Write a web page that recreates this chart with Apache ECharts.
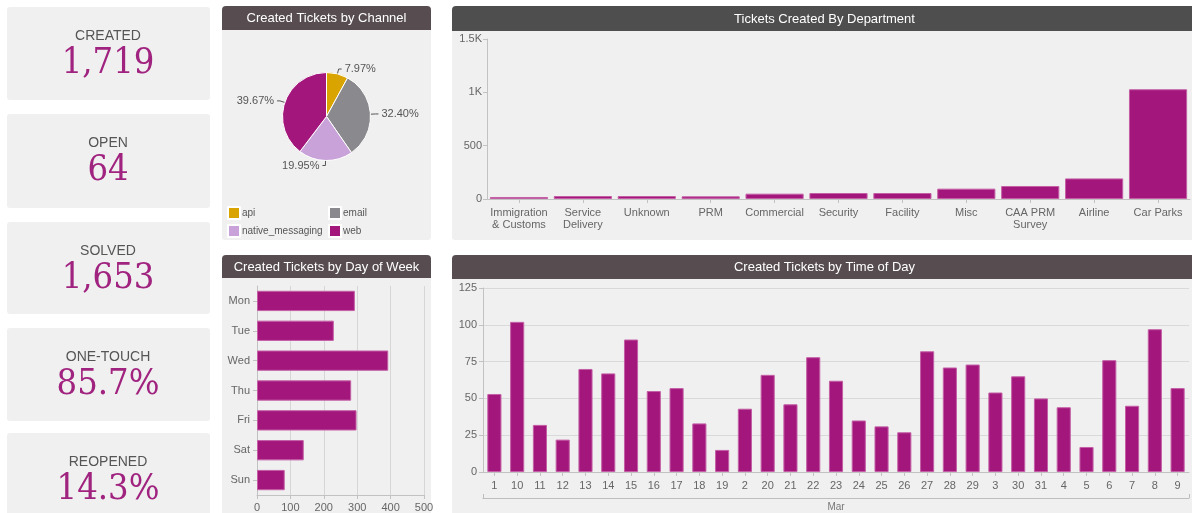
<!DOCTYPE html>
<html><head><meta charset="utf-8">
<script src="https://cdn.jsdelivr.net/npm/echarts@6/dist/echarts.min.js"></script>
<style>html,body{margin:0;padding:0;background:#fff;overflow:hidden}#c{width:1192px;height:513px}</style>
</head><body><div id="c"></div>
<script>
// ---- data ----
const kpiLabels = ['CREATED', 'OPEN', 'SOLVED', 'ONE-TOUCH', 'REOPENED'];
const kpiValues = ['1,719', '64', '1,653', '85.7%', '14.3%'];

const channelNames = ['api', 'email', 'native_messaging', 'web'];
const channelValues = [137, 557, 343, 682];

const deptNames = ['Immigration\n& Customs', 'Service\nDelivery', 'Unknown', 'PRM', 'Commercial', 'Security', 'Facility', 'Misc', 'CAA PRM\nSurvey', 'Airline', 'Car Parks'];
const deptValues = [19, 28, 28, 25, 50, 56, 56, 97, 122, 193, 1029];

const dayNames = ['Mon', 'Tue', 'Wed', 'Thu', 'Fri', 'Sat', 'Sun'];
const dayValues = [293, 230, 393, 282, 298, 140, 83];

const timeCats = ['1', '10', '11', '12', '13', '14', '15', '16', '17', '18', '19', '2', '20', '21', '22', '23', '24', '25', '26', '27', '28', '29', '3', '30', '31', '4', '5', '6', '7', '8', '9'];
const timeValues = [53, 102, 32, 22, 70, 67, 90, 55, 57, 33, 15, 43, 66, 46, 78, 62, 35, 31, 27, 82, 71, 73, 54, 65, 50, 44, 17, 76, 45, 97, 57];
const timeGroup = ['Mar'];

// ---- styling ----
const PURPLE = '#a3177c';
const BAR_BORDER = '#c45fa6';
const PANEL = '#f0f0f0';
const HEAD = '#574d50';
const HEAD_DEPT = '#4e4e4e';
const TXT = '#666';
const SANS = 'Liberation Sans, Arial, sans-serif';
const SERIF = '"DejaVu Serif Condensed", "DejaVu Serif", serif';

const chart = echarts.init(document.getElementById('c'), null, {renderer: 'canvas'});

const channelTotal = channelValues.reduce((a, b) => a + b, 0);

const cardTops = [7, 114, 222, 328, 433];
const cardH = [93, 94, 92, 93, 90];
const graphics = [];
kpiLabels.forEach((lab, i) => {
  const t = cardTops[i];
  graphics.push({type: 'rect', z: -10, shape: {x: 7, y: t, width: 203, height: cardH[i], r: 3}, style: {fill: PANEL}});
  graphics.push({type: 'text', z: 5, x: 108, y: t + 29, style: {text: lab, fill: '#555', font: '14px ' + SANS, textAlign: 'center', textVerticalAlign: 'middle'}});
  graphics.push({type: 'text', z: 5, x: 108, y: t + 39,
    style: {text: kpiValues[i], fill: '#a0237f', font: '36px ' + SERIF, textAlign: 'center', textVerticalAlign: 'top'}});
});

function panel(x, y, w, h, headH, head, title) {
  graphics.push({type: 'rect', z: -10, shape: {x: x, y: y, width: w, height: h, r: 3}, style: {fill: PANEL}});
  graphics.push({type: 'rect', z: -9, shape: {x: x, y: y, width: w, height: headH, r: [4, 4, 0, 0]}, style: {fill: head}});
  graphics.push({type: 'text', z: 5, x: x + w / 2, y: y + headH / 2 + 0.5, style: {text: title, fill: '#fff', font: '13px ' + SANS, textAlign: 'center', textVerticalAlign: 'middle'}});
}
panel(222, 6, 209, 234, 24, HEAD, 'Created Tickets by Channel');
panel(452, 6, 745, 234, 25, HEAD_DEPT, 'Tickets Created By Department');
panel(222, 255, 209, 270, 23, HEAD, 'Created Tickets by Day of Week');
panel(452, 255, 745, 270, 24, HEAD, 'Created Tickets by Time of Day');

const axisLbl = {color: TXT, fontSize: 11, fontFamily: SANS};
const axLine = {show: true, lineStyle: {color: '#c2c2c2'}};
const axTick = {show: true, lineStyle: {color: '#c2c2c2'}, length: 4};

const option = {
  animation: false,
  backgroundColor: '#fff',
  graphic: {elements: graphics},
  legend: [
    {data: ['api', 'native_messaging'], orient: 'vertical', left: 227, top: 206, itemWidth: 12, itemHeight: 12, itemGap: 4, icon: 'rect',
      textStyle: {color: '#555', fontSize: 10, fontFamily: SANS, padding: [0, 0, 0, -3]}, padding: 0},
    {data: ['email', 'web'], orient: 'vertical', left: 328, top: 206, itemWidth: 12, itemHeight: 12, itemGap: 4, icon: 'rect',
      textStyle: {color: '#555', fontSize: 10, fontFamily: SANS, padding: [0, 0, 0, -3]}, padding: 0}
  ],
  grid: [
    {left: 487, right: 2, top: 39, bottom: 513 - 199, containLabel: false},
    {left: 257, width: 167, top: 286, height: 211, containLabel: false},
    {left: 483, right: 3, top: 288, height: 184, containLabel: false}
  ],
  xAxis: [
    {gridIndex: 0, type: 'category', data: deptNames, axisLine: axLine, axisTick: Object.assign({alignWithLabel: true}, axTick),
      axisLabel: Object.assign({interval: 0, margin: 8, lineHeight: 12}, axisLbl)},
    {gridIndex: 1, type: 'value', min: 0, max: 500, interval: 100, axisLine: axLine, axisTick: axTick,
      splitLine: {show: true, lineStyle: {color: '#d6d6d6'}}, axisLabel: Object.assign({margin: 7}, axisLbl)},
    {gridIndex: 2, type: 'category', data: timeCats, axisLine: axLine, axisTick: Object.assign({alignWithLabel: true}, axTick),
      axisLabel: Object.assign({interval: 0, margin: 8}, axisLbl)},
    {gridIndex: 2, type: 'category', data: timeGroup, position: 'bottom', offset: 26,
      axisLine: {show: true, lineStyle: {color: '#bdbdbd'}}, axisTick: {show: true, inside: true, length: 4, lineStyle: {color: '#bdbdbd'}},
      axisLabel: {color: '#777', fontSize: 10, fontFamily: SANS, margin: 4}}
  ],
  yAxis: [
    {gridIndex: 0, type: 'value', min: 0, max: 1500, interval: 500, axisLine: axLine, axisTick: axTick, splitLine: {show: false},
      axisLabel: Object.assign({margin: 5, formatter: v => v >= 1000 ? (v / 1000) + 'K' : String(v)}, axisLbl)},
    {gridIndex: 1, type: 'category', data: dayNames, inverse: true, axisLine: axLine, axisTick: Object.assign({alignWithLabel: true}, axTick),
      axisLabel: Object.assign({margin: 7}, axisLbl)},
    {gridIndex: 2, type: 'value', min: 0, max: 125, interval: 25, axisLine: axLine, axisTick: axTick,
      splitLine: {show: true, lineStyle: {color: '#d9d9d9'}}, axisLabel: Object.assign({margin: 6}, axisLbl)}
  ],
  series: [
    {type: 'pie', center: [326.5, 116.5], radius: 44, startAngle: 90, clockwise: true,
      data: channelNames.map((n, i) => ({name: n, value: channelValues[i]})),
      color: ['#d9a400', '#8a8a8e', '#c8a2d8', PURPLE],
      itemStyle: {borderColor: '#fff', borderWidth: 1},
      label: {formatter: p => (p.value / channelTotal * 100).toFixed(2) + '%', color: '#555', fontSize: 11, fontFamily: SANS, distanceToLabelLine: 3},
      labelLine: {length: 5, length2: 3, lineStyle: {color: '#555'}}},
    {type: 'bar', xAxisIndex: 0, yAxisIndex: 0, data: deptValues, barCategoryGap: '9%',
      itemStyle: {color: PURPLE, borderColor: BAR_BORDER, borderWidth: 1}},
    {type: 'bar', xAxisIndex: 1, yAxisIndex: 1, data: dayValues, barCategoryGap: '32%',
      itemStyle: {color: PURPLE, borderColor: BAR_BORDER, borderWidth: 1}},
    {type: 'bar', xAxisIndex: 2, yAxisIndex: 2, data: timeValues, barCategoryGap: '38%',
      itemStyle: {color: PURPLE, borderColor: BAR_BORDER, borderWidth: 1}}
  ]
};
chart.setOption(option);
</script>
</body></html>
